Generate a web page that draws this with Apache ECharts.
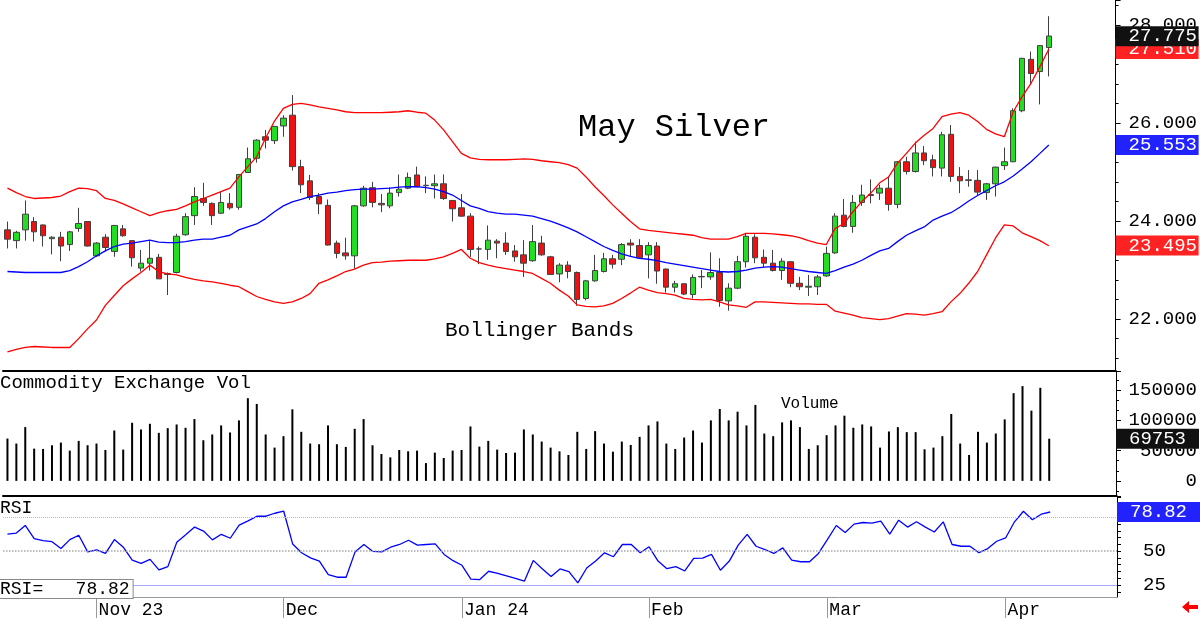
<!DOCTYPE html>
<html><head><meta charset="utf-8">
<script src="https://cdn.jsdelivr.net/npm/echarts@6/dist/echarts.min.js"></script>
<style>html,body{margin:0;padding:0;background:#fff}#c{width:1200px;height:619px}</style>
</head><body><div id="c"></div>
<script>
const dates = [
'2023-10-18','2023-10-19','2023-10-20','2023-10-23','2023-10-24','2023-10-25','2023-10-26','2023-10-27','2023-10-30','2023-10-31',
'2023-11-01','2023-11-02','2023-11-03','2023-11-06','2023-11-07','2023-11-08','2023-11-09','2023-11-10','2023-11-13','2023-11-14',
'2023-11-15','2023-11-16','2023-11-17','2023-11-20','2023-11-21','2023-11-22','2023-11-24','2023-11-27','2023-11-28','2023-11-29',
'2023-11-30','2023-12-01','2023-12-04','2023-12-05','2023-12-06','2023-12-07','2023-12-08','2023-12-11','2023-12-12','2023-12-13',
'2023-12-14','2023-12-15','2023-12-18','2023-12-19','2023-12-20','2023-12-21','2023-12-22','2023-12-26','2023-12-27','2023-12-28',
'2023-12-29','2024-01-02','2024-01-03','2024-01-04','2024-01-05','2024-01-08','2024-01-09','2024-01-10','2024-01-11','2024-01-12',
'2024-01-16','2024-01-17','2024-01-18','2024-01-19','2024-01-22','2024-01-23','2024-01-24','2024-01-25','2024-01-26','2024-01-29',
'2024-01-30','2024-01-31','2024-02-01','2024-02-02','2024-02-05','2024-02-06','2024-02-07','2024-02-08','2024-02-09','2024-02-12',
'2024-02-13','2024-02-14','2024-02-15','2024-02-16','2024-02-20','2024-02-21','2024-02-22','2024-02-23','2024-02-26','2024-02-27',
'2024-02-28','2024-02-29','2024-03-01','2024-03-04','2024-03-05','2024-03-06','2024-03-07','2024-03-08','2024-03-11','2024-03-12',
'2024-03-13','2024-03-14','2024-03-15','2024-03-18','2024-03-19','2024-03-20','2024-03-21','2024-03-22','2024-03-25','2024-03-26',
'2024-03-27','2024-03-28','2024-04-01','2024-04-02','2024-04-03','2024-04-04','2024-04-05','2024-04-08'];

const open = [
23.82,23.60,23.82,23.99,23.92,23.64,23.67,23.52,23.85,23.99,
23.29,23.67,23.38,23.84,23.60,23.04,23.14,23.26,22.91,22.95,
23.72,24.11,24.46,24.36,24.16,24.36,24.28,24.99,25.28,25.72,
25.64,25.94,26.16,25.11,24.82,24.50,24.32,23.55,23.35,23.29,
24.31,24.68,24.36,24.31,24.58,24.67,24.94,24.72,24.72,24.76,
24.42,24.27,24.10,23.43,23.42,23.59,23.55,23.39,23.31,23.19,
23.55,23.27,22.92,23.10,22.95,22.42,22.78,22.97,23.23,23.22,
23.55,23.50,23.31,23.49,23.02,22.65,22.72,22.50,22.86,22.86,
22.95,22.37,22.63,23.17,23.67,23.26,23.14,22.99,23.17,22.73,
22.65,22.66,22.88,23.35,24.12,23.89,24.38,24.54,24.57,24.67,
24.34,25.21,25.01,25.39,25.25,25.08,25.77,24.91,24.84,24.83,
24.58,24.76,25.13,25.21,26.25,27.30,27.05,27.54];
const close = [
23.63,23.77,24.14,23.78,23.70,23.67,23.49,23.78,23.95,23.49,
23.55,23.46,23.91,23.70,23.25,23.14,23.24,22.82,22.93,23.69,
24.09,24.50,24.38,24.11,24.38,24.27,24.95,25.27,25.65,25.65,
25.93,26.10,25.11,24.74,24.48,24.35,23.51,23.34,23.29,24.31,
24.67,24.38,24.33,24.57,24.65,24.89,24.70,24.73,24.76,24.46,
24.25,24.10,23.42,23.43,23.61,23.55,23.38,23.27,23.14,23.58,
23.31,22.91,23.10,22.97,22.40,22.78,22.99,23.23,23.12,23.52,
23.51,23.25,23.50,22.98,22.65,22.72,22.51,22.85,22.87,22.95,
22.38,22.63,23.17,23.69,23.25,23.14,22.99,23.18,22.73,22.66,
22.67,22.86,23.34,24.10,23.89,24.38,24.53,24.52,24.67,24.34,
25.21,25.01,25.39,25.23,25.09,25.76,24.91,24.82,24.83,24.59,
24.76,25.10,25.21,26.25,27.32,27.01,27.58,27.775];
const high = [
23.99,23.80,24.42,24.08,23.93,23.69,23.78,23.80,24.27,23.99,
23.57,23.73,23.92,23.92,23.61,23.41,23.59,23.33,22.95,23.74,
24.16,24.69,24.78,24.38,24.59,24.57,24.96,25.50,25.67,25.86,
25.94,26.16,26.57,25.25,24.94,24.57,24.44,23.60,23.66,24.33,
24.72,24.80,24.55,24.69,24.95,24.99,25.11,24.91,24.95,24.95,
24.43,24.55,24.16,23.48,23.91,23.63,23.77,23.51,23.61,23.92,
23.70,23.29,23.14,23.18,22.97,22.80,23.31,23.35,23.31,23.55,
23.63,23.63,23.57,23.57,23.03,22.78,22.73,22.91,23.00,23.36,
23.24,22.73,23.29,23.76,23.73,23.42,23.41,23.24,23.18,22.86,
22.90,22.90,23.48,24.16,24.45,24.53,24.74,24.85,24.74,24.91,
25.22,25.31,25.62,25.53,25.35,25.82,25.96,25.10,25.04,25.04,
24.78,25.11,25.50,26.30,27.33,27.46,27.59,28.18];
const low = [
23.44,23.44,23.60,23.58,23.48,23.32,23.18,23.39,23.78,23.48,
23.27,23.38,23.27,23.68,23.07,22.97,22.99,22.82,22.49,22.93,
23.70,23.92,24.31,23.92,24.14,24.23,24.23,24.99,25.19,25.48,
25.57,25.72,25.03,24.57,24.43,24.14,23.50,23.24,23.21,23.03,
24.29,24.28,24.18,24.26,24.50,24.65,24.69,24.57,24.46,24.43,
23.99,24.09,23.27,23.12,23.21,23.24,23.31,23.17,22.86,23.17,
23.29,22.90,22.75,22.83,22.27,22.38,22.76,22.95,23.03,23.10,
23.27,23.24,22.83,22.72,22.54,22.54,22.49,22.42,22.63,22.80,
22.25,22.17,22.61,23.05,23.14,23.06,22.97,22.80,22.65,22.59,
22.47,22.49,22.86,23.33,23.87,23.76,24.31,24.36,24.43,24.21,
24.26,24.95,24.99,25.14,24.91,24.91,24.80,24.57,24.70,24.52,
24.43,24.50,25.04,25.20,26.22,26.78,26.38,26.95];

const upperBand = [
24.67,24.58,24.50,24.46,24.47,24.48,24.51,24.60,24.67,24.66,
24.62,24.46,24.42,24.35,24.27,24.19,24.11,24.17,24.21,24.24,
24.31,24.39,24.46,24.53,24.60,24.67,24.90,25.11,25.31,25.69,
26.04,26.30,26.38,26.40,26.37,26.33,26.30,26.27,26.23,26.21,
26.21,26.21,26.21,26.22,26.23,26.25,26.22,26.20,26.06,25.86,
25.62,25.38,25.29,25.26,25.25,25.25,25.25,25.26,25.27,25.26,
25.23,25.21,25.19,25.15,25.08,24.90,24.70,24.52,24.33,24.16,
23.99,23.84,23.81,23.79,23.77,23.75,23.73,23.71,23.66,23.63,
23.63,23.63,23.68,23.75,23.75,23.75,23.74,23.72,23.70,23.66,
23.60,23.55,23.52,23.85,23.95,24.19,24.40,24.57,24.78,24.90,
25.18,25.38,25.59,25.75,25.89,26.13,26.18,26.21,26.16,26.03,
25.87,25.78,25.72,26.23,26.54,26.81,27.15,27.51];
const midBand = [
22.97,22.96,22.95,22.95,22.95,22.95,22.95,22.99,23.07,23.17,
23.29,23.39,23.48,23.53,23.55,23.58,23.61,23.57,23.56,23.56,
23.58,23.61,23.63,23.63,23.67,23.71,23.82,23.88,23.94,24.05,
24.19,24.31,24.39,24.44,24.50,24.53,24.57,24.59,24.62,24.64,
24.65,24.65,24.66,24.67,24.69,24.70,24.70,24.68,24.65,24.60,
24.53,24.42,24.31,24.26,24.19,24.16,24.14,24.14,24.12,24.10,
24.05,24.00,23.93,23.86,23.78,23.68,23.58,23.48,23.40,23.33,
23.28,23.24,23.22,23.19,23.15,23.12,23.09,23.06,23.03,23.00,
22.97,22.96,22.97,23.00,23.04,23.06,23.07,23.06,23.03,23.00,
22.97,22.95,22.93,22.99,23.06,23.12,23.20,23.30,23.39,23.44,
23.58,23.71,23.80,23.88,24.02,24.10,24.17,24.28,24.41,24.52,
24.62,24.72,24.80,24.92,25.06,25.21,25.38,25.553];
const lowerBand = [
21.33,21.38,21.42,21.44,21.43,21.42,21.42,21.42,21.60,21.80,
21.98,22.28,22.48,22.68,22.82,22.95,23.10,22.97,22.92,22.90,
22.85,22.81,22.78,22.76,22.73,22.69,22.66,22.56,22.46,22.40,
22.35,22.32,22.35,22.42,22.52,22.73,22.80,22.88,22.97,23.02,
23.10,23.15,23.16,23.18,23.19,23.20,23.20,23.20,23.23,23.27,
23.34,23.42,23.24,23.15,23.10,23.06,23.03,23.00,22.97,22.93,
22.83,22.73,22.59,22.47,22.29,22.26,22.25,22.27,22.32,22.42,
22.53,22.65,22.59,22.54,22.52,22.49,22.42,22.40,22.39,22.40,
22.35,22.29,22.27,22.24,22.35,22.35,22.34,22.33,22.32,22.31,
22.31,22.30,22.30,22.16,22.12,22.08,22.03,22.01,21.99,22.01,
22.06,22.11,22.10,22.08,22.11,22.15,22.35,22.52,22.73,22.97,
23.31,23.65,23.92,23.90,23.76,23.68,23.60,23.495];

const volume = [
70000,61700,88900,53300,52800,58900,63300,50000,66100,58900,
61700,51100,83300,51700,96100,85000,94400,79400,87200,93300,
87800,102200,67200,76700,91700,80000,100000,136700,127200,76700,
55000,73900,118300,81100,61700,60600,91700,60600,56100,86100,
102200,58900,44400,38900,51100,48900,50000,29400,46700,37800,
50000,51100,90000,56700,66100,51700,46100,46700,85000,76700,
65000,55000,48900,42800,81100,52800,82200,61700,48300,65000,
59400,72800,91700,98300,61700,52800,71700,83300,63300,100000,
118900,100000,114400,91700,125600,78300,73900,96700,100000,88900,
52800,58900,75600,91700,107800,87800,93300,90000,55000,81700,
88900,80600,80600,52200,55000,73900,110600,61700,42800,81100,
63300,78300,101700,145000,156700,116100,153900,69753];

const rsi = [
62.6,63.3,68.9,59.2,57.8,57.0,51.9,58.5,61.7,49.5,
51.0,48.3,58.5,52.9,43.4,41.0,43.9,36.2,38.6,56.6,
62.1,67.7,64.8,58.3,62.4,59.5,69.2,72.3,75.7,75.7,
77.9,79.4,55.3,48.8,45.1,42.7,32.8,30.8,30.8,49.3,
54.9,49.8,49.5,52.9,54.9,58.0,54.4,54.9,55.3,47.6,
43.0,39.6,29.4,29.1,35.2,33.7,31.8,29.9,27.9,43.2,
37.1,31.3,36.9,35.0,26.7,37.6,42.7,48.8,45.9,54.9,
54.9,48.8,53.2,42.7,37.1,38.6,35.4,44.7,44.9,47.6,
35.9,42.7,54.4,62.4,53.6,51.2,48.3,52.4,43.4,42.2,
42.2,48.3,58.5,68.9,63.8,69.9,71.1,70.6,72.1,62.6,
72.8,67.7,71.6,67.7,64.1,71.6,54.9,53.6,53.6,48.8,
51.9,57.3,59.7,71.6,79.4,73.1,77.2,78.82];

const tickDates = ['2023-11-01','2023-12-01','2024-01-02','2024-02-01','2024-03-01','2024-04-01'];
const tickLabels = ['Nov 23','Dec','Jan 24','Feb','Mar','Apr'];
const rsiLevels = [75, 50, 25];
const rsiLabelValues = [25, 50, 75];

const MONO = '"Liberation Mono","DejaVu Sans Mono",monospace';
const N_PAD = 7;
const categories = dates.concat(Array.from({length: N_PAD}, (_, k) => 'pad' + k));
const tickIdx = new Set(tickDates.map(d => dates.indexOf(d)));
const labelOf = {};
tickDates.forEach((d, k) => { labelOf[d] = tickLabels[k]; });
const last = dates.length - 1;
const candleData = dates.map((_, i) => [open[i], close[i], low[i], high[i]]);

function endLabel(value, text, bg) {
  return {
    yAxis: value,
    lineStyle: {color: 'rgba(0,0,0,0)', width: 1, opacity: 1},
    label: {show: true, position: 'end', distance: 0, formatter: text, opacity: 1,
      backgroundColor: bg, color: '#fff', fontFamily: MONO, fontSize: 19,
      lineHeight: 20, padding: [0, 2, 0, 13], width: 68}
  };
}

const gridL = 3, gridR = 83;
const chart = echarts.init(document.getElementById('c'), null, {renderer: 'canvas'});
const axisText = {fontFamily: MONO, fontSize: 19, color: '#000'};

const option = {
  animation: false,
  backgroundColor: '#fff',
  grid: [
    {left: gridL, right: gridR, top: 0, height: 371},
    {left: gridL, right: gridR, top: 371, height: 125},
    {left: gridL, right: gridR, top: 496, height: 102}
  ],
  xAxis: [0, 1, 2].map(g => ({
    type: 'category', gridIndex: g, data: categories, boundaryGap: true,
    axisLine: {show: true, onZero: false,
      lineStyle: g < 2 ? {color: '#000', width: 2} : {color: '#999', width: 1}},
    axisTick: g < 2 ? {show: false} : {show: true, alignWithLabel: true,
      interval: (i) => tickIdx.has(i), length: 21, lineStyle: {color: '#999'}},
    axisLabel: g < 2 ? {show: false} : {show: true, interval: (i) => tickIdx.has(i),
      formatter: (v) => labelOf[v] || '', align: 'left', fontFamily: MONO,
      fontSize: 18, color: '#000', margin: 4, padding: [0, 0, 0, 2]},
    splitLine: {show: false}
  })),
  yAxis: [
    {gridIndex: 0, type: 'value', position: 'right', min: 20.94, max: 28.51, splitNumber: 4,
      axisLine: {show: true, lineStyle: {color: '#000'}},
      axisTick: {show: true, length: 5, lineStyle: {color: '#000'}},
      minorTick: {show: true, splitNumber: 5, length: 3, lineStyle: {color: '#000'}},
      splitLine: {show: false}, minorSplitLine: {show: false},
      axisLabel: Object.assign({formatter: v => v.toFixed(3), margin: 13,
        showMinLabel: false, showMaxLabel: false}, axisText)},
    {gridIndex: 1, type: 'value', position: 'right', min: -25000, max: 181667, splitNumber: 4,
      axisLine: {show: true, lineStyle: {color: '#000'}},
      axisTick: {show: true, length: 5, lineStyle: {color: '#000'}},
      minorTick: {show: true, splitNumber: 3, length: 3, lineStyle: {color: '#000'}},
      splitLine: {show: false},
      axisLabel: Object.assign({formatter: v => String(Math.round(v)), align: 'right', margin: 81,
        showMinLabel: false, showMaxLabel: false}, axisText)},
    {gridIndex: 2, type: 'value', position: 'right', min: 16.25, max: 90.6,
      axisLine: {show: true, lineStyle: {color: '#000'}},
      axisTick: {show: true, length: 4, lineStyle: {color: '#000'},
        customValues: [20, 25, 30, 35, 40, 45, 50, 55, 60, 65, 70, 75, 80, 85, 90]},
      splitLine: {show: false},
      axisLabel: Object.assign({customValues: rsiLabelValues, margin: 26}, axisText)}
  ],
  series: [
    {type: 'candlestick', name: 'May Silver', xAxisIndex: 0, yAxisIndex: 0, data: candleData,
      barWidth: 6, z: 2,
      itemStyle: {color: '#22dd22', color0: '#ee1111', borderColor: '#404040',
        borderColor0: '#404040', borderWidth: 1}},
    {type: 'line', name: 'Upper', xAxisIndex: 0, yAxisIndex: 0, data: upperBand,
      showSymbol: false, symbol: 'none', z: 3, lineStyle: {color: '#ff0000', width: 1.3}},
    {type: 'line', name: 'Mid', xAxisIndex: 0, yAxisIndex: 0, data: midBand,
      showSymbol: false, symbol: 'none', z: 3, lineStyle: {color: '#0000ff', width: 1.3}},
    {type: 'line', name: 'Lower', xAxisIndex: 0, yAxisIndex: 0, data: lowerBand,
      showSymbol: false, symbol: 'none', z: 3, lineStyle: {color: '#ff0000', width: 1.3},
      markLine: {silent: true, symbol: 'none', animation: false, data: [
        endLabel(lowerBand[last], lowerBand[last].toFixed(3), '#ff2222'),
        endLabel(midBand[last], midBand[last].toFixed(3), '#2222ff'),
        endLabel(upperBand[last], upperBand[last].toFixed(3), '#ff2222'),
        endLabel(close[last], close[last].toFixed(3), '#111111')
      ]}},
    {type: 'bar', name: 'Volume', xAxisIndex: 1, yAxisIndex: 1, data: volume, barWidth: 2,
      itemStyle: {color: '#000'}, z: 3,
      markLine: {silent: true, symbol: 'none', animation: false, data: [
        endLabel(volume[last], String(volume[last]), '#111111')
      ]}},
    {type: 'line', name: 'RSI', xAxisIndex: 2, yAxisIndex: 2, data: rsi, showSymbol: false,
      symbol: 'none', z: 4, lineStyle: {color: '#0000ff', width: 1.3},
      markLine: {silent: true, symbol: 'none', animation: false, data: [
        {yAxis: rsiLevels[0], label: {show: false}, lineStyle: {color: '#ff9c9c', width: 1, type: 'dotted'}},
        {yAxis: rsiLevels[1], label: {show: false}, lineStyle: {color: '#a8a8a8', width: 1.5, type: 'dotted'}},
        {yAxis: rsiLevels[2], label: {show: false}, lineStyle: {color: '#a8a8ff', width: 1, type: 'solid'}},
        endLabel(rsi[last], rsi[last].toFixed(2), '#2222ff')
      ]}}
  ],
  graphic: [
    {type: 'text', x: 578, y: 128, z: 20, style: {text: 'May Silver', font: '32px ' + MONO,
      fill: '#000', align: 'left', verticalAlign: 'middle', textAlign: 'left', textVerticalAlign: 'middle'}},
    {type: 'text', x: 445, y: 330, z: 20, style: {text: 'Bollinger Bands', font: '21px ' + MONO,
      fill: '#000', align: 'left', verticalAlign: 'middle', textAlign: 'left', textVerticalAlign: 'middle'}},
    {type: 'text', x: 0, y: 383, z: 20, style: {text: 'Commodity Exchange Vol', font: '19px ' + MONO,
      fill: '#000', align: 'left', verticalAlign: 'middle', textAlign: 'left', textVerticalAlign: 'middle'}},
    {type: 'text', x: 781, y: 404, z: 20, style: {text: 'Volume', font: '16px ' + MONO,
      fill: '#000', align: 'left', verticalAlign: 'middle', textAlign: 'left', textVerticalAlign: 'middle'}},
    {type: 'text', x: 0, y: 508, z: 20, style: {text: 'RSI', font: '18px ' + MONO,
      fill: '#000', backgroundColor: '#fff', padding: [0, 4, 0, 0],
      align: 'left', verticalAlign: 'middle', textAlign: 'left', textVerticalAlign: 'middle'}},
    {type: 'text', x: 0, y: 589, z: 20, style: {text: 'RSI=   ' + rsi[last].toFixed(2), font: '18px ' + MONO,
      fill: '#000', backgroundColor: '#fff', borderColor: '#888', borderWidth: 1, padding: [0, 3, 0, 0],
      align: 'left', verticalAlign: 'middle', textAlign: 'left', textVerticalAlign: 'middle'}},
    {type: 'polygon', z: 20, shape: {points: [[1182, 607], [1189, 601], [1189, 605], [1198, 605], [1198, 609], [1189, 609], [1189, 613]]},
      style: {fill: '#ff0000'}}
  ]
};
chart.setOption(option);
</script>
</body></html>
